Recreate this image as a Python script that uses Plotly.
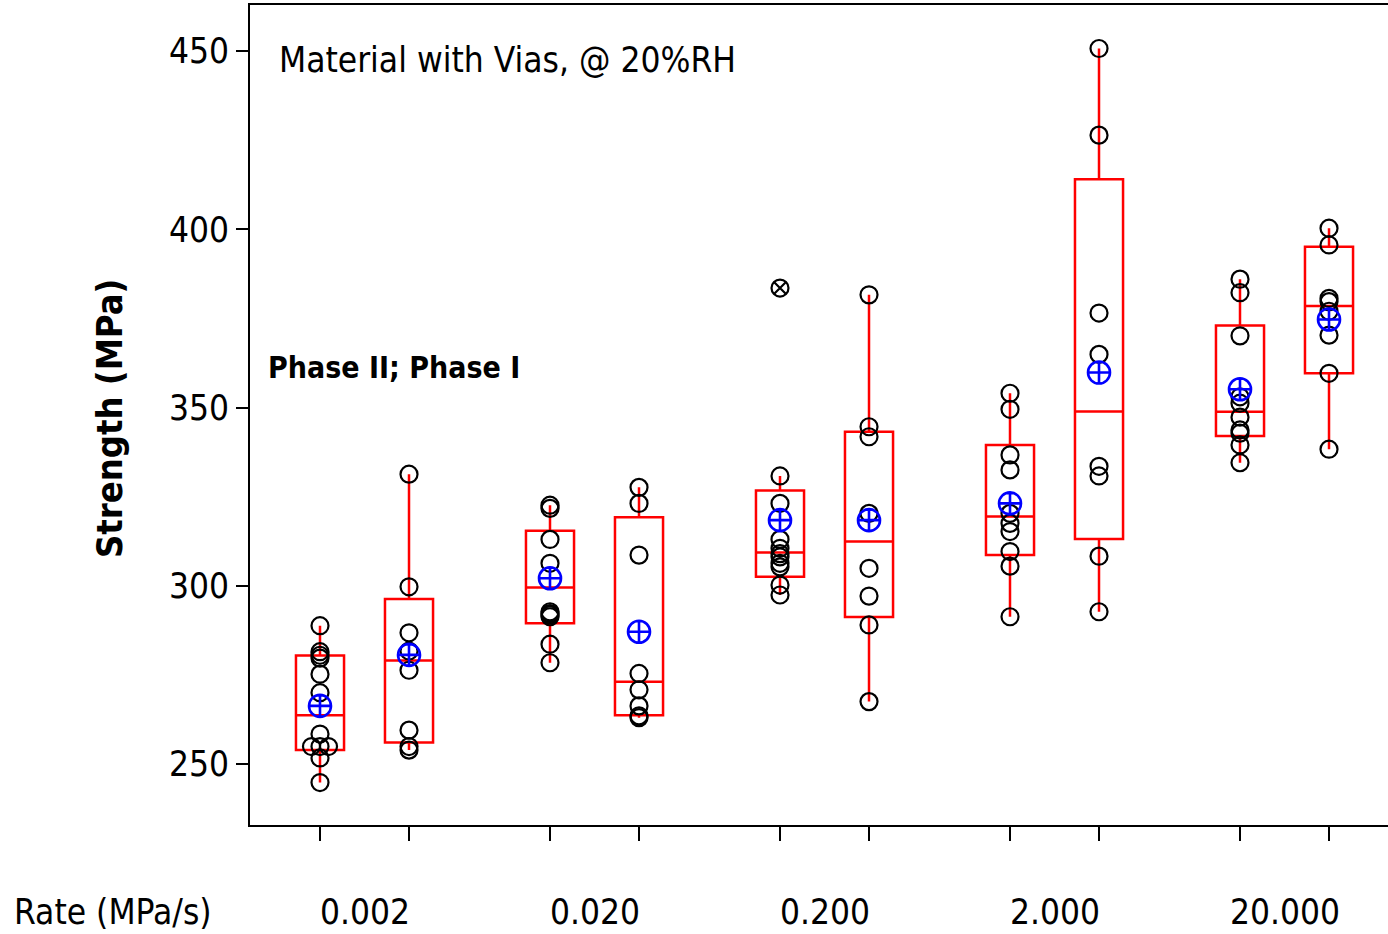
import numpy as np
import plotly.graph_objects as go

# ---------------- data ----------------
rates = ["0.002", "0.020", "0.200", "2.000", "20.000"]
phases = ["Phase II", "Phase I"]

g_0002_p2 = [288.8, 281.5, 280.5, 279.7, 275.2, 270.0, 258.4, 254.9, 254.9, 254.9, 251.7, 244.8]
g_0002_p1 = [331.3, 299.7, 286.8, 281.7, 276.3, 259.5, 254.9, 253.9]
g_0020_p2 = [322.6, 321.7, 313.0, 306.3, 292.7, 292.2, 291.8, 291.3, 283.6, 278.4]
g_0020_p1 = [327.6, 323.1, 308.6, 275.4, 270.8, 266.3, 263.5, 263.0]
g_0200_p2 = [383.5, 330.8, 323.1, 313.0, 310.5, 309.0, 308.1, 306.3, 305.3, 300.2, 297.4]
g_0200_p1 = [381.6, 344.6, 341.8, 320.3, 304.9, 297.1, 289.0, 267.5]
g_2000_p2 = [354.0, 349.5, 336.7, 332.5, 320.3, 317.5, 315.2, 309.6, 305.5, 291.3]
g_2000_p1 = [450.7, 426.4, 376.5, 364.9, 333.5, 330.8, 308.3, 292.7]
g_20000_p2 = [386.0, 382.2, 370.1, 353.0, 351.2, 347.3, 343.7, 342.8, 339.5, 334.5]
g_20000_p1 = [400.3, 395.6, 380.6, 379.7, 377.0, 370.3, 359.6, 338.3]

groups = [g_0002_p2, g_0002_p1, g_0020_p2, g_0020_p1, g_0200_p2,
          g_0200_p1, g_2000_p2, g_2000_p1, g_20000_p2, g_20000_p1]

q1 = [253.9, 256.0, 289.5, 263.7, 302.5, 291.2, 308.6, 313.1, 342.0, 359.6]
median = [263.7, 279.0, 299.5, 273.1, 309.3, 312.4, 319.4, 348.9, 348.8, 378.5]
q3 = [280.4, 296.3, 315.4, 319.2, 326.7, 343.2, 339.5, 414.0, 373.0, 395.1]
whisker_low = [244.8, 253.9, 278.4, 263.0, 297.4, 267.5, 291.3, 292.7, 334.5, 338.3]
whisker_high = [288.8, 331.3, 322.6, 327.6, 330.8, 381.6, 354.0, 450.7, 386.0, 400.3]
means = [266.3, 280.6, 302.1, 287.1, 318.4, 318.4, 323.1, 359.8, 355.1, 374.7]

y_ticks = [250, 300, 350, 400, 450]
title_text = "Material with Vias, @ 20%RH"
legend_text = "Phase II; Phase I"
x_title = "Rate (MPa/s)"
y_title = "Strength (MPa)"

# ---------------- layout geometry ----------------
W, H = 1388, 934
PHASE_GAP = 0.387
pos = [i + j * PHASE_GAP for i in range(len(rates)) for j in range(len(phases))]
BOX_W = 0.209
TIE_DX = 0.037

FONT = "DejaVu Sans Condensed, Liberation Sans, Arial, sans-serif"

fig = go.Figure()

# boxes (precomputed statistics)
fig.add_trace(go.Box(
    x=pos, q1=q1, median=median, q3=q3,
    lowerfence=whisker_low, upperfence=whisker_high,
    width=BOX_W, whiskerwidth=0,
    boxpoints=False,
    line=dict(color="#FF0000", width=2.5),
    fillcolor="rgba(0,0,0,0)",
    hoverinfo="skip", showlegend=False,
))

# individual points
px_x, px_y, out_x, out_y = [], [], [], []
for k, vals in enumerate(groups):
    vals = np.asarray(vals, dtype=float)
    uniq, counts = np.unique(vals, return_counts=True)
    for v, c in zip(uniq, counts):
        offs = (np.arange(c) - (c - 1) / 2.0) * TIE_DX
        for o in offs:
            px_x.append(pos[k] + o)
            px_y.append(v)
        if v > whisker_high[k] or v < whisker_low[k]:
            out_x.append(pos[k])
            out_y.append(v)

fig.add_trace(go.Scatter(
    x=px_x, y=px_y, mode="markers",
    marker=dict(symbol="circle-open", size=17, color="black", line=dict(width=2.2, color="black")),
    hoverinfo="skip", showlegend=False,
))
fig.add_trace(go.Scatter(
    x=out_x, y=out_y, mode="markers",
    marker=dict(symbol="x-thin-open", size=12, color="black", line=dict(width=2.2, color="black")),
    hoverinfo="skip", showlegend=False,
))
# means
fig.add_trace(go.Scatter(
    x=pos, y=means, mode="markers",
    marker=dict(symbol="circle-cross-open", size=22, color="#0000FF", line=dict(width=2.6, color="#0000FF")),
    hoverinfo="skip", showlegend=False,
))

ML, MT, MB = 250, 5, 109
plot_w = W - ML
plot_h = H - MT - MB
x_range = [(ML - 320) / 230.0, (W - 320) / 230.0]
y_lo = 250 - (825 - 764) / 3.565
y_hi = 450 + (51 - 5) / 3.565

fig.update_layout(
    width=W, height=H,
    margin=dict(l=ML, r=0, t=MT, b=MB, pad=0),
    paper_bgcolor="white", plot_bgcolor="white",
    font=dict(family=FONT, size=35, color="black"),
    showlegend=False,
    xaxis=dict(
        range=x_range, showgrid=False, zeroline=False,
        showline=True, linecolor="black", linewidth=2, mirror=True,
        tickmode="array", tickvals=pos, ticktext=[""] * len(pos),
        ticks="outside", ticklen=14, tickwidth=2, tickcolor="black",
    ),
    yaxis=dict(
        range=[y_lo, y_hi], showgrid=False, zeroline=False,
        showline=True, linecolor="black", linewidth=2,
        tickmode="array", tickvals=y_ticks, ticktext=[str(t) for t in y_ticks],
        ticks="outside", ticklen=12, tickwidth=2, tickcolor="black",
        tickfont=dict(size=35, family=FONT),
    ),
)

def px2paper_x(px):
    return (px - ML) / plot_w

def py2paper_y(py):
    return 1 - (py - MT) / plot_h

ann = []
ann.append(dict(text=title_text, x=px2paper_x(277), y=py2paper_y(60), xref="paper", yref="paper",
                xanchor="left", yanchor="middle", showarrow=False, font=dict(size=35, family=FONT)))
ann.append(dict(text="<b>" + legend_text + "</b>", x=px2paper_x(266), y=py2paper_y(368), xref="paper", yref="paper",
                xanchor="left", yanchor="middle", showarrow=False, font=dict(size=30, family=FONT)))
ann.append(dict(text="<b>" + y_title + "</b>", x=px2paper_x(109), y=py2paper_y(419), xref="paper", yref="paper",
                xanchor="center", yanchor="middle", textangle=-90, showarrow=False, font=dict(size=36, family=FONT)))
ann.append(dict(text=x_title, x=px2paper_x(12), y=py2paper_y(912), xref="paper", yref="paper",
                xanchor="left", yanchor="middle", showarrow=False, font=dict(size=35, family=FONT)))
for i, r in enumerate(rates):
    ann.append(dict(text=r, x=i + PHASE_GAP / 2, y=py2paper_y(912), xref="x", yref="paper",
                    xanchor="center", yanchor="middle", showarrow=False, font=dict(size=35, family=FONT)))
fig.update_layout(annotations=ann)

fig.write_html("out.html", config={"displayModeBar": False},
               post_script="document.body.style.margin='0';document.body.style.overflow='hidden';")
